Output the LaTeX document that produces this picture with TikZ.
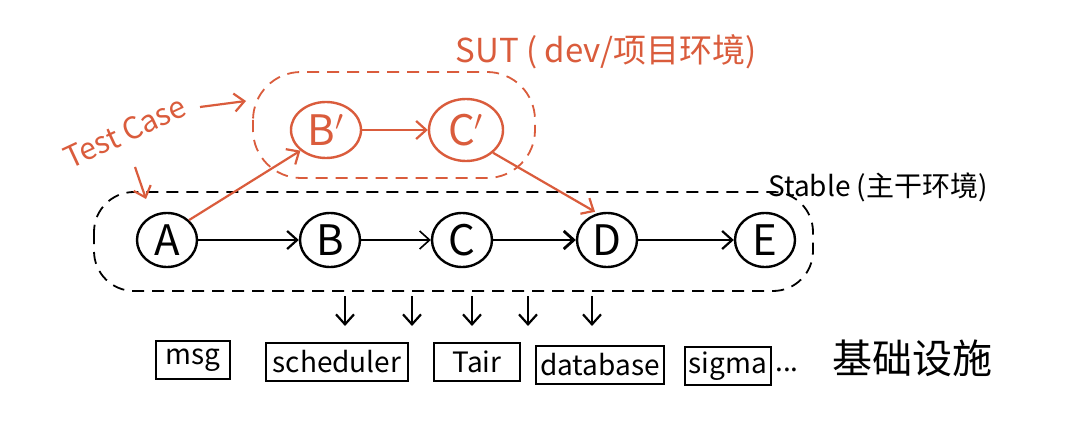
\documentclass[tikz,border=0pt]{standalone}
\usepackage{fontspec}
\setmainfont{Noto Sans CJK SC}
\usetikzlibrary{arrows.meta,shapes.geometric}
\definecolor{orng}{RGB}{218,92,60}
\begin{document}
\begin{tikzpicture}[x=0.5pt,y=-0.5pt,
  nd/.style={draw, ellipse, line width=1.2pt, minimum width=30pt, minimum height=27pt, inner sep=0pt, font=\fontsize{21}{21}\selectfont},
  ond/.style={nd, draw=orng, text=orng},
  box/.style={draw, line width=1.2pt, minimum height=19pt, inner sep=2pt, font=\fontsize{14}{14}\selectfont},
  arr/.style={-{Straight Barb[length=5pt,width=9pt]}, line width=1.1pt},
  oarr/.style={arr, draw=orng},
  region/.style={dash pattern=on 6pt off 4pt, line width=0.9pt},
  lbl/.style={font=\fontsize{15}{15}\selectfont, inner sep=0pt}
]
\fill[white] (0,0) rectangle (1080,438);
\useasboundingbox (0,0) rectangle (1080,438);

% regions
\draw[region, rounded corners=20pt] (94,192) rectangle (813,291);
\draw[region, draw=orng, rounded corners=24pt] (253,72) rectangle (535,178);

% stable nodes
\node[nd] (A) at (167,240) {A};
\node[nd] (B) at (330,240) {B};
\node[nd] (C) at (462,240) {C};
\node[nd] (D) at (607,240) {D};
\node[nd] (E) at (765,240) {E};

% SUT nodes
\node[ond, minimum width=35pt, minimum height=28pt] (Bp) at (326,130) {B$'$};
\node[ond, minimum width=37pt, minimum height=31pt] (Cp) at (466,130) {C$'$};

\draw[arr] (A) -- (B);
\draw[arr, line width=0.8pt] (B) -- (C);
\draw[arr, line width=1.4pt] (C) -- (D);
\draw[arr] (D) -- (E);
\draw[oarr] (Bp) -- (Cp);
\draw[oarr] (A.north east) -- (Bp.south west);
\draw[oarr] (Cp.south east) -- ([xshift=-6pt]D.north);

% labels
\node[lbl, text=orng, font=\fontsize{16.5}{16.5}\selectfont] (sut) at (606,52) {SUT ( dev/项目环境)};
\node[lbl, text=orng, rotate=25] (tc) at (125,132) {Test Case};
\node[lbl, font=\fontsize{14}{14}\selectfont] (stable) at (878,187) {Stable (主干环境)};

\coordinate (tcs1) at (200,107);
\coordinate (tcend) at (246,101);
\coordinate (tcs2) at (135,167);
\coordinate (tcdown) at (146,199);
\draw[oarr] (tcs1) -- (tcend);
\draw[oarr] (tcs2) -- (tcdown);

% down arrows
\foreach \x [count=\i] in {345,412,472,528,592} {
  \coordinate (da\i) at (\x,296);
  \coordinate (db\i) at (\x,326);
  \draw[arr] (da\i) -- (db\i);
}

% infrastructure
\node[box, minimum width=37pt] (msg) at (193,360) {msg};
\node[box, minimum width=71pt] (sch) at (337,362) {scheduler};
\node[box, minimum width=43pt] (tair) at (477,362) {Tair};
\node[box, minimum width=55pt] (db) at (600,365) {database};
\node[box, minimum width=40pt] (sigma) at (728,366) {sigma};
\node[lbl, font=\fontsize{14}{14}\selectfont, anchor=west] (dots) at (775,370) {...};
\node[lbl, font=\fontsize{20}{20}\selectfont] (infra) at (912,358) {基础设施};
\end{tikzpicture}
\end{document}
